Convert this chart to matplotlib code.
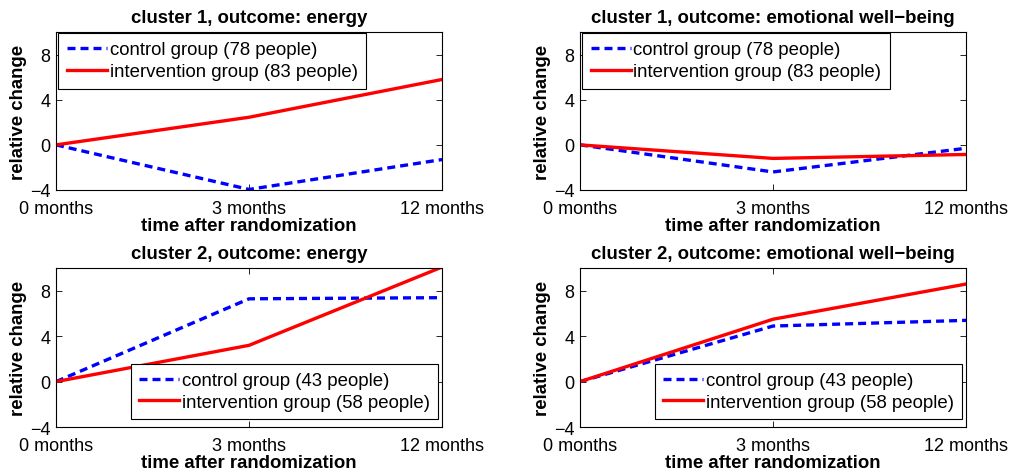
import matplotlib
matplotlib.use("Agg")
import matplotlib.pyplot as plt

plt.rcParams['font.family'] = ['Liberation Sans', 'DejaVu Sans']
plt.rcParams['font.size'] = 13.4

# x positions are just the three measurement moments
time_labels = ["0 months", "3 months", "12 months"]
time_pos = [0, 1, 2]

titles = [
    "cluster 1, outcome: energy",
    "cluster 1, outcome: emotional well\u2212being",
    "cluster 2, outcome: energy",
    "cluster 2, outcome: emotional well\u2212being",
]

control_c1_energy = [0, -3.95, -1.3]
interv_c1_energy = [0, 2.45, 5.8]
control_c1_wellbeing = [0, -2.4, -0.3]
interv_c1_wellbeing = [0, -1.2, -0.85]
control_c2_energy = [0, 7.3, 7.4]
interv_c2_energy = [0, 3.2, 10.1]
control_c2_wellbeing = [0, 4.9, 5.4]
interv_c2_wellbeing = [0, 5.5, 8.6]

control_labels = ["control group (78 people)", "control group (78 people)",
                  "control group (43 people)", "control group (43 people)"]
interv_labels = ["intervention group (83 people)", "intervention group (83 people)",
                 "intervention group (58 people)", "intervention group (58 people)"]

controls = [control_c1_energy, control_c1_wellbeing, control_c2_energy, control_c2_wellbeing]
intervs = [interv_c1_energy, interv_c1_wellbeing, interv_c2_energy, interv_c2_wellbeing]

fig = plt.figure(figsize=(10.24, 4.77), dpi=100)

# [left, bottom, width, height] in figure fraction
positions = [
    [0.0547, 0.5996, 0.377, 0.331],
    [0.5664, 0.5996, 0.377, 0.331],
    [0.0547, 0.1027, 0.377, 0.333],
    [0.5664, 0.1027, 0.377, 0.333],
]

for i in range(4):
    ax = fig.add_axes(positions[i])
    ax.plot(time_pos, controls[i], color=(0, 0, 1), linestyle=(0, (2.4, 1.5)),
            linewidth=2.4, label=control_labels[i])
    ax.plot(time_pos, intervs[i], color=(1, 0, 0), linestyle="-",
            linewidth=2.4, label=interv_labels[i])

    ax.set_xlim(0, 2)
    ax.set_ylim(-4, 10)
    ax.set_xticks(time_pos)
    ax.set_xticklabels(time_labels, fontsize=13)
    ax.set_yticks([-4, 0, 4, 8])
    ax.tick_params(axis="y", labelsize=13)
    ax.tick_params(direction="in", top=True, right=True, length=4, width=0.6)
    ax.tick_params(axis="x", pad=7)
    ax.tick_params(axis="y", pad=4)
    for sp in ax.spines.values():
        sp.set_linewidth(0.8)

    ax.set_title(titles[i], fontweight="bold", fontsize=13.4, pad=7)
    ax.set_xlabel("time after randomization", fontweight="bold", labelpad=0)
    ax.set_ylabel("relative change", fontweight="bold", labelpad=2)

    if i < 2:
        leg = ax.legend(loc="upper left", bbox_to_anchor=(0.006, 0.994),
                        handlelength=2.15, handletextpad=0.15,
                        labelspacing=0.25, borderpad=0.45, borderaxespad=0)
    else:
        leg = ax.legend(loc="lower right", bbox_to_anchor=(0.99, 0.05),
                        handlelength=2.15, handletextpad=0.15,
                        labelspacing=0.25, borderpad=0.45, borderaxespad=0)
    frame = leg.get_frame()
    frame.set_edgecolor("black")
    frame.set_linewidth(0.8)
    frame.set_boxstyle("square", pad=0)
    frame.set_alpha(1)

fig.savefig("out.png", dpi=100)
